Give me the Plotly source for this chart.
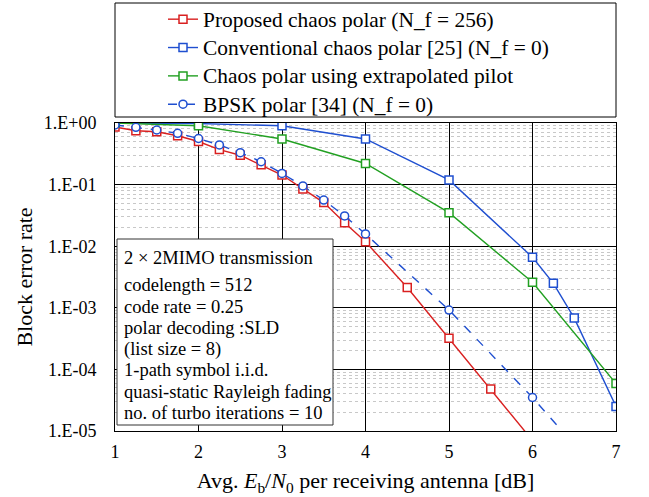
import plotly.graph_objects as go

# Eb/N0 [dB]
x_fine = [1, 1.25, 1.5, 1.75, 2, 2.25, 2.5, 2.75, 3, 3.25, 3.5, 3.75, 4, 4.5, 5, 5.5, 6]
bler_proposed = [0.86, 0.75, 0.72, 0.62, 0.50, 0.37, 0.30, 0.21, 0.143, 0.085, 0.051,
                 0.024, 0.0118, 0.00214, 0.00032, 4.8e-5, 7e-6]

x_conv = [1, 2, 3, 4, 5, 6, 6.25, 6.5, 7]
bler_conv = [1.0, 0.98, 0.90, 0.55, 0.119, 0.0066, 0.0025, 0.00068, 2.5e-5]

x_extra = [1, 2, 3, 4, 5, 6, 7]
bler_extra = [1.0, 0.90, 0.55, 0.22, 0.035, 0.0026, 5.9e-5]

x_bpsk = [1, 1.25, 1.5, 1.75, 2, 2.25, 2.5, 2.75, 3, 3.25, 3.5, 3.75, 4, 5, 6, 6.5]
bler_bpsk = [0.93, 0.85, 0.77, 0.68, 0.56, 0.44, 0.33, 0.235, 0.152, 0.095, 0.056,
             0.031, 0.0158, 0.00092, 3.5e-5, 6e-6]

y_tickvals = [1, 1e-1, 1e-2, 1e-3, 1e-4, 1e-5]
y_ticktext = ['1.E+00', '1.E-01', '1.E-02', '1.E-03', '1.E-04', '1.E-05']

info_lines = ['2 \u00d7 2MIMO transmission', 'codelength = 512', 'code rate = 0.25',
              'polar decoding :SLD', '(list size = 8)', '1-path symbol i.i.d.',
              'quasi-static Rayleigh fading', 'no. of turbo iterations = 10']

RED = '#d92020'
BLUE = '#1f4fd0'
GREEN = '#22a022'
FONT = 'Liberation Serif'

W, H = 649, 497
ML, MR, MT, MB = 115, 33, 123, 66
PH = H - MT - MB
PW = W - ML - MR


def py(pix):
    # pixel row -> paper y
    return (H - MB - pix) / PH


def px_(pix):
    return (pix - ML) / PW


fig = go.Figure()


def add_series(x, y, name, color, symbol, dash='solid'):
    # legend rows are spaced by the legend font size, the text itself a bit larger
    label = '<span style="font-size:21.4px">' + name + '</span>'
    fig.add_trace(go.Scatter(
        x=x, y=y, name=label, mode='lines+markers',
        line=dict(color=color, width=1.4, dash=dash),
        marker=dict(symbol=symbol, size=8, color='white',
                    line=dict(color=color, width=1.5)),
    ))


add_series(x_fine, bler_proposed, 'Proposed chaos polar (N_f = 256)', RED, 'square')
add_series(x_conv, bler_conv, 'Conventional chaos polar [25] (N_f = 0)', BLUE, 'square')
add_series(x_extra, bler_extra, 'Chaos polar using extrapolated pilot', GREEN, 'square')
add_series(x_bpsk, bler_bpsk, 'BPSK polar [34] (N_f = 0)', BLUE, 'circle', dash='dash')

# legend frame
fig.add_shape(type='rect', xref='paper', yref='paper',
              x0=0, x1=1, y0=py(117), y1=py(3),
              line=dict(color='black', width=1), fillcolor='white', layer='below')

# info box
fig.add_shape(type='rect', xref='paper', yref='paper',
              x0=px_(117), x1=px_(333), y0=py(425), y1=py(239),
              line=dict(color='#333333', width=1), fillcolor='white', layer='above')
line_y = [258, 285, 307, 328, 349, 370, 392, 413]
for txt, yy in zip(info_lines, line_y):
    fig.add_annotation(text=txt, xref='paper', yref='paper', x=px_(122), y=py(yy),
                       xanchor='left', yanchor='middle', showarrow=False,
                       font=dict(family=FONT, size=18.5, color='black'))

fig.update_xaxes(
    range=[1, 7], dtick=1, tickfont=dict(size=18), showgrid=True,
    gridcolor='black', gridwidth=1, showline=True, linecolor='black', mirror=True,
    zeroline=False, ticklabelstandoff=4, automargin=False,
    title=dict(text='Avg. <i>E</i><sub>b</sub>/<i>N</i><sub>0</sub> per receiving antenna [dB]',
               font=dict(size=22), standoff=12),
)
fig.update_yaxes(
    type='log', range=[-5, 0], tickvals=y_tickvals, ticktext=y_ticktext,
    tickfont=dict(size=18), showgrid=True, gridcolor='black', gridwidth=1,
    showline=True, linecolor='black', mirror=True, zeroline=False,
    ticklabelstandoff=14, automargin=False,
    minor=dict(showgrid=True, gridcolor='#c8c8c8', griddash='dot', gridwidth=1, dtick='D1'),
    title=dict(text='Block error rate', font=dict(size=22), standoff=5),
)

fig.update_layout(
    width=W, height=H,
    margin=dict(l=ML, r=MR, t=MT, b=MB, autoexpand=False),
    paper_bgcolor='white', plot_bgcolor='white',
    font=dict(family=FONT, color='black'),
    showlegend=True,
    legend=dict(x=px_(163), y=py(0), xanchor='left', yanchor='top',
                bgcolor='rgba(0,0,0,0)', borderwidth=0,
                font=dict(family=FONT, size=19.5)),
)

# page body has a default margin; drop it so the figure sits at the corner
fig.write_html('out.html', config={'displayModeBar': False},
               post_script="document.body.style.margin='0px';")
